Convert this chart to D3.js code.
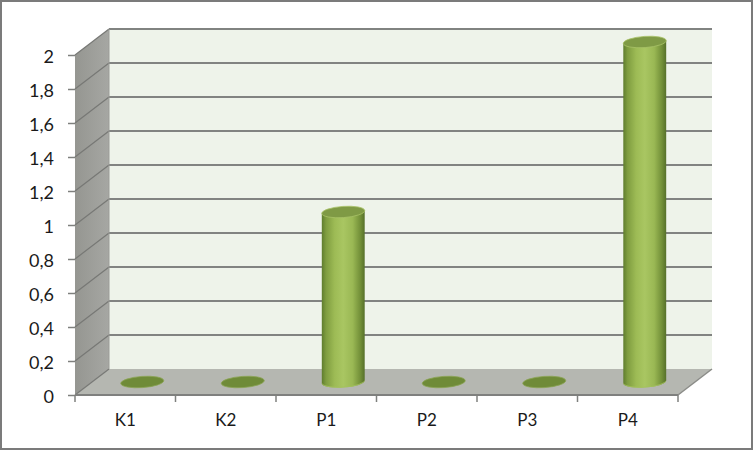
<!DOCTYPE html>
<html><head><meta charset="utf-8">
<script src="https://cdn.jsdelivr.net/npm/d3@7/dist/d3.min.js"></script>
<style>html,body{margin:0;padding:0;background:#fff}svg{display:block}text{font-family:Lato,"Open Sans",sans-serif;fill:#1a1a1a}</style>
</head><body><script>
const categories = ["K1","K2","P1","P2","P3","P4"];
const values = [0,0,1,0,0,2];
const yTicks = [0,0.2,0.4,0.6,0.8,1,1.2,1.4,1.6,1.8,2];
const W=753,H=451, dx=34, dy=-26, rx=21.5, ry=5.6, rot=-4;
const x=d3.scaleBand().domain(categories).range([75,678]);
const y=d3.scaleLinear().domain([0,2]).range([395,55]);
const svg=d3.select("body").append("svg").attr("width",W).attr("height",H);
const defs=svg.append("defs");
const cyl=defs.append("linearGradient").attr("id","cyl");
[[0,"#5f7d2e"],[.1,"#7f9d40"],[.3,"#9dbb55"],[.5,"#a9c662"],[.72,"#9ab854"],[.9,"#728f38"],[1,"#56702a"]]
 .forEach(s=>cyl.append("stop").attr("offset",s[0]).attr("stop-color",s[1]));
const side=defs.append("linearGradient").attr("id","side");
side.append("stop").attr("offset",0).attr("stop-color","#959691");
side.append("stop").attr("offset",1).attr("stop-color","#a6a7a3");

svg.append("rect").attr("x",1).attr("y",1).attr("width",W-2).attr("height",H-3)
 .attr("fill","#fff").attr("stroke","#7b7b7b").attr("stroke-width",2);

const x0=x.range()[0],x1=x.range()[1],y0=y(0),yT=y(2);
const poly=(pts,fill)=>svg.append("path").attr("d",d3.line()(pts)+"Z").attr("fill",fill);
poly([[x0+dx,yT+dy],[x1+dx,yT+dy],[x1+dx,y0+dy],[x0+dx,y0+dy]],"#eef3ea");
poly([[x0,y0],[x0+dx,y0+dy],[x0+dx,yT+dy],[x0,yT]],"url(#side)");
poly([[x0,y0],[x1,y0],[x1+dx,y0+dy],[x0+dx,y0+dy]],"#b5b7b1");

svg.selectAll(".grid").data(yTicks.filter(t=>t>0)).join("line").attr("class","grid")
 .attr("x1",x0+dx).attr("x2",x1+dx).attr("y1",d=>y(d)+dy).attr("y2",d=>y(d)+dy)
 .attr("stroke","#818381").attr("stroke-width",2);
svg.selectAll(".gside").data(yTicks).join("line").attr("class","gside")
 .attr("x1",x0).attr("x2",x0+dx).attr("y1",d=>y(d)).attr("y2",d=>y(d)+dy)
 .attr("stroke","#777875").attr("stroke-width",1.2);
svg.append("line").attr("x1",x0+dx).attr("x2",x0+dx).attr("y1",yT+dy).attr("y2",y0+dy).attr("stroke","#9a9b97");
svg.append("line").attr("x1",x1).attr("x2",x1+dx).attr("y1",y0).attr("y2",y0+dy).attr("stroke","#8b8c88").attr("stroke-width",1.5);

const base=y(0)-13;
categories.forEach((c,i)=>{
  const cx=x(c)+x.bandwidth()/2+dx/2, v=values[i], top=base-(y(0)-y(v));
  const ex=rx*Math.cos(rot*Math.PI/180), ey=rx*Math.sin(rot*Math.PI/180);
  const g=svg.append("g");
  if(v>0){
    g.append("path").attr("fill","url(#cyl)")
     .attr("d",`M${cx-ex},${top-ey}L${cx-ex},${base-ey}A${rx},${ry} ${rot} 0 0 ${cx+ex},${base+ey}L${cx+ex},${top+ey}Z`);
    g.append("path").attr("fill","#a4c25c").attr("opacity",.8)
     .attr("d",`M${cx-ex},${base-ey-1}A${rx},${ry} ${rot} 0 0 ${cx+ex},${base+ey-1}L${cx+ex},${base+ey}A${rx},${ry} ${rot} 0 1 ${cx-ex},${base-ey}Z`);
  }
  g.append("ellipse").attr("transform",`translate(${cx},${top}) rotate(${rot})`)
   .attr("rx",rx).attr("ry",ry).attr("fill",v>0?"#7f9a45":"#6f8b38").attr("stroke",v>0?"#a9c267":"#8aa452").attr("stroke-width",.8);
});

const yAxis=d3.axisLeft(y).tickValues(yTicks).tickSize(7).tickPadding(5)
 .tickFormat(d=>String(d).replace(".",","));
const ya=svg.append("g").attr("transform",`translate(${x0},0)`).call(yAxis);
ya.select(".domain").remove();
ya.selectAll("line").attr("stroke","#7f807e").attr("stroke-width",1.5);
ya.selectAll("text").attr("font-size",18).attr("x",-21).attr("y",2);
const xa=svg.append("g").attr("transform",`translate(0,${y0})`)
 .call(d3.axisBottom(x).tickSize(0).tickPadding(19));
xa.select(".domain").attr("stroke","#7f807e").attr("stroke-width",2).attr("d",`M${x0},0H${x1}`);
xa.selectAll("text").attr("font-size",17);
xa.selectAll(".edge").data(d3.range(7)).join("line").attr("class","edge")
 .attr("x1",d=>x0+d*x.step()).attr("x2",d=>x0+d*x.step()).attr("y1",0).attr("y2",7)
 .attr("stroke","#7f807e").attr("stroke-width",1.5);
</script></body></html>
